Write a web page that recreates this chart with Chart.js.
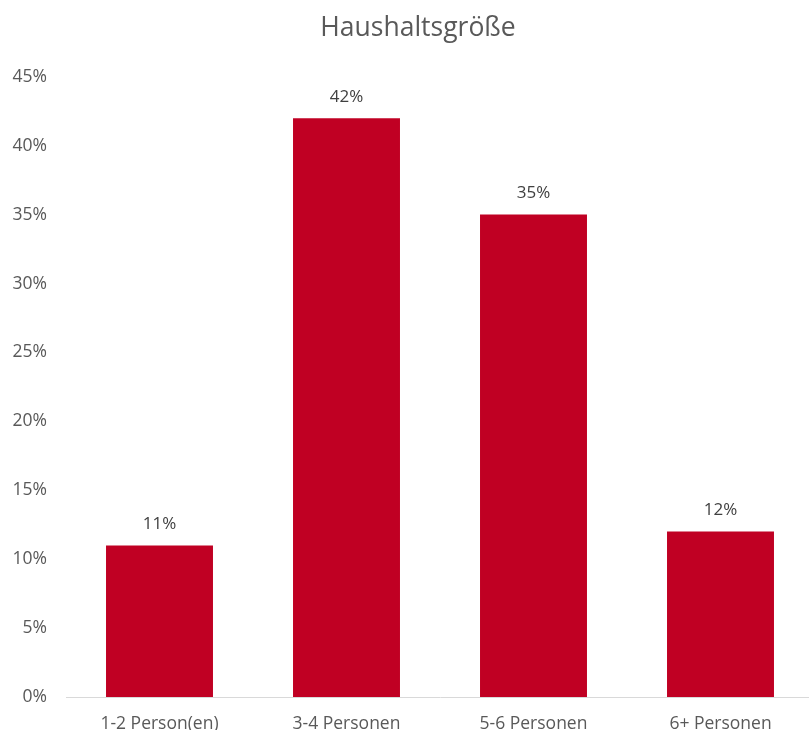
<!DOCTYPE html>
<html>
<head>
<meta charset="utf-8">
<script src="https://cdn.jsdelivr.net/npm/chart.js@4/dist/chart.umd.min.js"></script>
<style>
  html, body { margin: 0; padding: 0; overflow: hidden; background: #fff; }
  #wrap { width: 836px; height: 730px; }
</style>
</head>
<body>
<div id="wrap"><canvas id="hhChart" width="836" height="730"></canvas></div>
<script>
const kategorien = ["1-2 Person(en)", "3-4 Personen", "5-6 Personen", "6+ Personen"];
const anteile = [11, 42, 35, 12];
const yTicks = [0, 5, 10, 15, 20, 25, 30, 35, 40, 45];

const schrift = "'Open Sans', 'Liberation Sans', sans-serif";
const grau = "#595959";

// Werte über die Balken schreiben
const wertLabels = {
  id: "wertLabels",
  afterDatasetsDraw(chart) {
    const ctx = chart.ctx;
    const meta = chart.getDatasetMeta(0);
    ctx.save();
    ctx.font = "17px " + schrift;
    ctx.fillStyle = "#404040";
    ctx.textAlign = "center";
    ctx.textBaseline = "middle";
    meta.data.forEach((bar, i) => {
      ctx.fillText(anteile[i] + "%", bar.x, bar.y - 21);
    });
    ctx.restore();
  }
};

// y-Achse bis zum linken Rand, damit die Beschriftung nicht abgeschnitten wird
const achseLinks = {
  id: "achseLinks",
  afterLayout(chart) {
    chart.scales.y.left = 0;
  }
};

const ctx = document.getElementById("hhChart").getContext("2d");

new Chart(ctx, {
  type: "bar",
  data: {
    labels: kategorien,
    datasets: [{
      data: anteile,
      backgroundColor: "#C00023",
      barPercentage: 1,
      categoryPercentage: 0.572
    }]
  },
  options: {
    responsive: false,
    animation: false,
    layout: { padding: { left: 22, right: 22 } },
    plugins: {
      legend: { display: false },
      tooltip: { enabled: false },
      title: {
        display: true,
        text: "Haushaltsgröße",
        color: grau,
        font: { family: schrift, size: 26.5, weight: "normal" },
        padding: { top: 13, bottom: 32 }
      }
    },
    scales: {
      y: {
        min: 0,
        max: 45,
        afterBuildTicks: axis => { axis.ticks = yTicks.map(v => ({ value: v })); },
        afterFit: axis => { axis.width = 44; },
        grid: { display: false },
        border: { display: false },
        ticks: {
          padding: 11,
          color: grau,
          font: { family: schrift, size: 17.5 },
          callback: v => v + "%"
        }
      },
      x: {
        afterFit: axis => { axis.height = 33; },
        grid: { display: false },
        border: { display: true, color: "#d9d9d9", width: 1 },
        ticks: {
          padding: 9,
          color: grau,
          font: { family: schrift, size: 17.5 }
        }
      }
    }
  },
  plugins: [wertLabels, achseLinks]
});
</script>
</body>
</html>
